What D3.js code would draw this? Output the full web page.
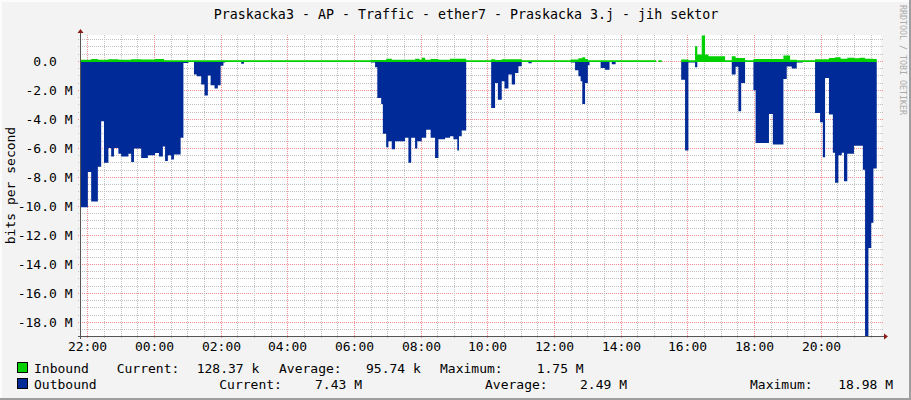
<!DOCTYPE html>
<html><head><meta charset="utf-8">
<script src="https://cdn.jsdelivr.net/npm/d3@7"></script>
<style>html,body{margin:0;padding:0;background:#F3F3F3}svg{display:block}text{font-family:"DejaVu Sans Mono",monospace;white-space:pre}</style>
</head><body><svg id="c" width="911" height="400"></svg>
<script>
// ---- data (Mbit/s), change points of a step series; null = no data ----
const outTimes = ["21:48","22:01","22:07","22:19","22:25","22:30","22:38","22:43","22:48","22:56","23:01","23:14","23:19","23:24","23:37","23:49","00:02","00:09","00:16","00:20","00:25","00:31","00:36","00:48","00:53","01:02","01:12","01:17","01:25","01:31","01:37","01:42","01:49","01:55","02:00","02:05","02:08","02:37","02:42","06:30","06:38","06:42","06:49","06:52","06:58","07:02","07:08","07:14","07:32","07:38","07:43","07:50","07:54","08:02","08:10","08:18","08:26","08:32","08:44","08:53","08:59","09:06","09:09","09:14","09:22","10:07","10:14","10:19","10:26","10:31","10:38","10:44","10:50","10:56","11:02","11:14","11:20","12:30","12:38","12:44","12:48","12:51","12:56","13:01","13:04","13:24","13:32","13:40","13:44","13:51","15:04","15:08","15:14","15:49","15:56","16:02","16:14","16:18","17:08","17:20","17:27","17:32","17:37","17:44","17:59","18:03","18:27","18:34","18:53","18:59","19:08","19:17","19:28","19:50","19:59","20:04","20:08","20:15","20:22","20:26","20:32","20:38","20:42","20:48","21:00","21:16","21:20","21:26","21:31","21:35","21:41"];
const outValues = [-10.1,-7.66,-9.7,-7.3,-4.16,-7.03,-6.0,-6.6,-6.0,-6.4,-6.6,-6.4,-6.97,-6.05,-6.7,-6.5,-6.35,-6.6,-5.9,-6.9,-6.5,-6.8,-6.45,-5.3,-0.14,0,-0.94,-1.06,-1.63,-2.39,-1.0,-1.68,-1.9,-1.68,-0.34,-0.1,0,-0.2,0,-0.1,-0.43,-2.55,-2.97,-5.03,-5.95,-5.54,-6.1,-5.54,-5.3,-7.03,-5.3,-6.05,-5.54,-5.3,-4.74,-5.3,-6.69,-5.4,-5.3,-5.2,-5.4,-6.18,-5.2,-4.8,0,-3.24,-1.52,-2.67,-1.4,-1.91,-0.94,-1.63,-0.83,-0.37,0,-0.16,0,-0.1,-0.64,-1.06,-1.4,-2.97,-1.52,-0.3,0,-0.48,-0.6,0,-0.23,0,null,0,null,-1.29,-6.18,-0.1,-0.43,-0.08,0,-0.94,-0.4,-3.47,-1.52,0,-2.02,-5.66,-3.66,-5.77,-1.24,-0.39,-0.53,-0.1,0,-3.6,-4.23,-6.64,-1.17,-3.7,-6.34,-8.41,-6.5,-6.34,-8.3,-6.4,-5.85,-7.5,-18.98,-12.9,-11.17,-7.43,null];
const inTimes = ["21:48","22:07","22:19","22:38","22:56","23:19","23:37","00:02","00:18","06:30","06:58","07:08","07:50","07:58","08:02","08:08","08:18","08:32","08:53","09:22","10:07","10:14","10:26","11:02","12:30","12:44","12:51","12:56","13:01","15:04","15:08","15:14","15:49","16:02","16:14","16:18","16:26","16:32","16:38","17:08","17:20","17:27","17:44","17:59","18:53","19:05","19:17","19:50","20:15","20:26","20:36","20:48","21:00","21:10","21:20","21:35","21:41"];
const inValues = [0.08,0.13,0.08,0.12,0.09,0.12,0.1,0.13,0.05,0.07,0.15,0.08,0.15,0.08,0.22,0.08,0.13,0.08,0.15,0.05,0.12,0.07,0.11,0.05,0.1,0.18,0.26,0.14,0.05,null,0.05,null,0.1,0.05,1.01,0.44,1.75,0.44,0.32,0.05,0.32,0.2,0.05,0.14,0.37,0.08,0.05,0.12,0.2,0.26,0.15,0.22,0.18,0.22,0.15,0.13,null];
const xTickLabels = ["22:00","00:00","02:00","04:00","06:00","08:00","10:00","12:00","14:00","16:00","18:00","20:00"];
const yTickValues = [0,-2,-4,-6,-8,-10,-12,-14,-16,-18];
const yTickLabels = ["0.0","-2.0 M","-4.0 M","-6.0 M","-8.0 M","-10.0 M","-12.0 M","-14.0 M","-16.0 M","-18.0 M"];
const title = "Praskacka3 - AP - Traffic - ether7 - Praskacka 3.j - jih sektor";
const legendRows = [
  {name:"Inbound", color:"#00CF00", items:[["Current:","128.37 k"],["Average:","95.74 k"],["Maximum:","1.75 M"]]},
  {name:"Outbound", color:"#002A97", items:[["Current:","7.43 M"],["Average:","2.49 M"],["Maximum:","18.98 M"]]}
];

// ---- helpers ----
function parseT(s){
  const [h,m] = s.split(":").map(Number);
  const mins = h*60+m;
  const day = mins >= 21*60+48 ? 1 : 2;
  return new Date(2000,0,day,h,m);
}
const L=81, R=881, T=35, B=336;
const x = d3.scaleTime().domain([new Date(2000,0,1,21,48,40), new Date(2000,0,2,21,48,40)]).range([L,R]);
const y = d3.scaleLinear().domain([-18.98, 1.79]).range([B,T]);
const zeroY = Math.round(y(0)) + 1;

const svg = d3.select("#c");
svg.append("rect").attr("width",911).attr("height",400).attr("fill","#F3F3F3");
svg.append("rect").attr("x",0).attr("y",0).attr("width",911).attr("height",2).attr("fill","#FCFCFC");
svg.append("rect").attr("x",0).attr("y",0).attr("width",2).attr("height",400).attr("fill","#FCFCFC");
svg.append("rect").attr("x",909).attr("y",0).attr("width",2).attr("height",400).attr("fill","#9E9E9E");
svg.append("rect").attr("x",0).attr("y",398).attr("width",911).attr("height",2).attr("fill","#9E9E9E");
svg.append("rect").attr("x",L).attr("y",T).attr("width",R-L).attr("height",B-T).attr("fill","#FFFFFF");

// grid
const g = svg.append("g").attr("shape-rendering","crispEdges");
const hv = d3.range(-19, 1.75, 0.5);
hv.forEach(v=>{
  const yy = Math.round(y(v))+0.5;
  if (yy < T || yy > B) return;
  const major = Math.abs(v % 2) < 1e-9;
  g.append("line").attr("x1",78).attr("x2",883).attr("y1",yy).attr("y2",yy)
   .attr("stroke", major ? "#F09090" : "#C2C2C2").attr("stroke-dasharray","1,1");
});
const vt = d3.timeMinute.every(30).range(x.domain()[0], x.domain()[1]);
vt.forEach(t=>{
  const xx = Math.round(x(t))+0.5;
  const major = t.getMinutes()===0 && t.getHours()%2===0;
  g.append("line").attr("x1",xx).attr("x2",xx).attr("y1",T).attr("y2",339)
   .attr("stroke", major ? "#F09090" : "#C2C2C2").attr("stroke-dasharray","1,1");
});

// data
function steps(times, vals){
  const pts=[];
  for(let i=0;i<times.length-1;i++){
    const v = vals[i];
    pts.push({t:parseT(times[i]), v});
    pts.push({t:parseT(times[i+1]), v});
  }
  return pts;
}
svg.append("clipPath").attr("id","clip").append("rect").attr("x",L).attr("y",T-2).attr("width",R-L).attr("height",B-T+2);
const area = d3.area().defined(d=>d.v!==null).x(d=>x(d.t)).y0(zeroY).y1(d=>Math.max(zeroY, y(d.v)));
const dg = svg.append("g").attr("clip-path","url(#clip)");
dg.append("path").datum(steps(outTimes,outValues)).attr("d",area).attr("fill","#002A97");
const inArea = d3.area().defined(d=>d.v!==null).x(d=>x(d.t)).y0(zeroY).y1(d=>Math.min(y(d.v), zeroY-1));
dg.append("path").datum(steps(inTimes,inValues)).attr("d",inArea).attr("fill","#00CF00");

// axes
const ax = svg.append("g");
ax.append("line").attr("x1",78).attr("x2",884).attr("y1",336.5).attr("y2",336.5).attr("stroke","#555");
ax.append("line").attr("x1",80.5).attr("x2",80.5).attr("y1",339).attr("y2",32).attr("stroke","#555");
ax.append("path").attr("d","M884,333.5L888,336.5L884,339.5Z").attr("fill","#8B1A1A");
ax.append("path").attr("d","M77.5,33L80.5,29L83.5,33Z").attr("fill","#8B1A1A");

// x labels
xTickLabels.forEach(s=>{
  const [h,m]=s.split(":").map(Number);
  const t = new Date(2000,0,h>=22?1:2,h,m);
  svg.append("text").attr("x",Math.round(x(t))+0.5).attr("y",350.7).attr("text-anchor","middle")
     .attr("font-size","13px").attr("fill","#000").text(s);
});
// y labels
yTickValues.forEach((v,i)=>{
  const lab = v===0 ? yTickLabels[i]+"\u00a0\u00a0" : yTickLabels[i];
  svg.append("text").attr("x",72.5).attr("y",Math.round(y(v))+5).attr("text-anchor","end")
     .attr("font-size","13px").attr("fill","#000").text(lab);
});
svg.append("text").attr("transform","translate(15,185.5) rotate(-90)").attr("text-anchor","middle")
   .attr("font-size","13px").attr("fill","#000").text("bits per second");
svg.append("text").attr("x",466).attr("y",19).attr("text-anchor","middle")
   .attr("font-size","13.3px").attr("fill","#000").text(title);
svg.append("text").attr("transform","translate(899.5,5) rotate(90)")
   .attr("font-size","8.3px").attr("fill","#ABABAB").text("RRDTOOL / TOBI OETIKER");

// legend
const pos = [
  [[116.7,196.7],[279,366],[440,536.7]],
  [[219.3,315],[485,580],[750,838.3]]
];
legendRows.forEach((r,i)=>{
  const by = 372.7 + i*16;
  svg.append("rect").attr("x",17.5).attr("y",362.5+i*16).attr("width",10).attr("height",10)
     .attr("fill",r.color).attr("stroke","#000");
  svg.append("text").attr("x",34).attr("y",by).attr("font-size","13px").text(r.name);
  r.items.forEach((it,j)=>{
    svg.append("text").attr("x",pos[i][j][0]).attr("y",by).attr("font-size","13px").text(it[0]);
    svg.append("text").attr("x",pos[i][j][1]).attr("y",by).attr("font-size","13px").text(it[1]);
  });
});
</script></body></html>
